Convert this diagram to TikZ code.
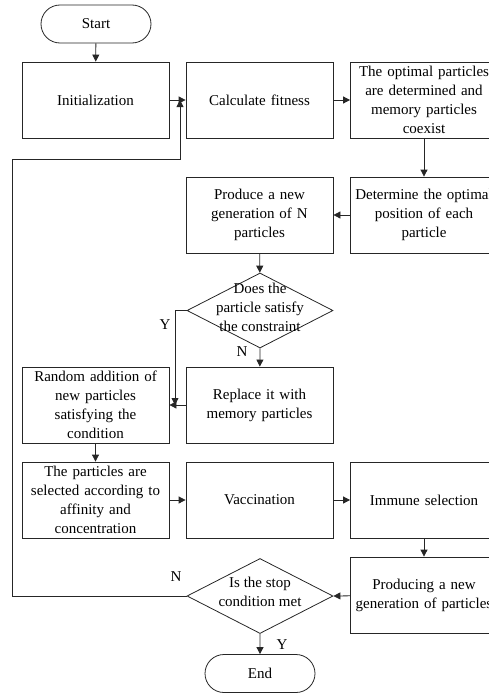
\documentclass[tikz,border=0pt]{standalone}
\usepackage{fontspec}
\setmainfont{Liberation Serif}
\usetikzlibrary{shapes.geometric,shapes.misc,arrows.meta}
\begin{document}
\begin{tikzpicture}[x=1pt,y=-1pt,
  every node/.style={font=\fontsize{15}{19}\selectfont},
  box/.style={draw=black!85,line width=0.8pt,minimum width=147pt,minimum height=76pt,text width=142pt,align=center,inner sep=0pt},
  term/.style={draw=black!85,line width=0.8pt,rounded rectangle,minimum width=110pt,minimum height=38pt,inner sep=0pt},
  dia/.style={draw=black!85,line width=0.8pt,diamond,minimum width=146pt,minimum height=75pt,inner sep=0pt},
  arr/.style={draw=black!85,line width=0.8pt,-{Triangle[length=7pt,width=7pt]}},
  ln/.style={draw=black!85,line width=0.8pt}]
\useasboundingbox (0,0) rectangle (488,693);
\node[term] (start) at (96,24) {Start};
\node[box] (init) at (95.5,100) {Initialization};
\node[box] (calc) at (259.5,100) {Calculate fitness};
\node[box] (opt) at (424,100) {The optimal particles\\are determined and\\memory particles\\coexist};
\node[box] (det) at (424,215) {Determine the optimal\\position of each\\particle};
\node[box] (prod) at (259.5,215) {Produce a new\\generation of N\\particles};
\node[dia] (d1) at (260,310.5) {};
\node[align=center] at (260,307) {Does the\\particle satisfy\\the constraint};
\node[box] (rep) at (259.5,405) {Replace it with\\memory particles};
\node[box] (rand) at (95.5,405) {Random addition of\\new particles\\satisfying the\\condition};
\node[box] (part) at (95.5,500) {The particles are\\selected according to\\affinity and\\concentration};
\node[box] (vac) at (259.5,500) {Vaccination};
\node[box] (imm) at (424,500) {Immune selection};
\node[box] (prodg) at (424,595) {Producing a new\\generation of particles};
\node[dia] (d2) at (260,596) {};
\node[align=center] at (260,592) {Is the stop\\condition met};
\node[term] (end) at (260,673.5) {End};
\coordinate (yj) at (175,405);
\coordinate (lp) at (180,100);
\coordinate (lc) at (12,159);
\draw[arr] (start) -- (init);
\draw[arr] (init) -- (calc);
\draw[arr] (calc) -- (opt);
\draw[arr] (opt) -- (det);
\draw[arr] (det) -- (prod);
\draw[arr] (prod) -- (d1);
\draw[arr] (d1.south) -- (rep);
\draw[arr] (d1.west) -| (yj);
\draw[arr] (rep) -- (rand);
\draw[arr] (rand) -- (part);
\draw[arr] (part) -- (vac);
\draw[arr] (vac) -- (imm);
\draw[arr] (imm) -- (prodg);
\draw[arr] (prodg) -- (d2.east);
\draw[arr] (d2.south) -- (end);
\draw[arr] (d2.west) -| (lc) -| (lp);
\node (ly1) at (165,325) {Y};
\node (ln1) at (242,352) {N};
\node (ln2) at (176,577) {N};
\node (ly2) at (282,645) {Y};
\end{tikzpicture}
\end{document}
